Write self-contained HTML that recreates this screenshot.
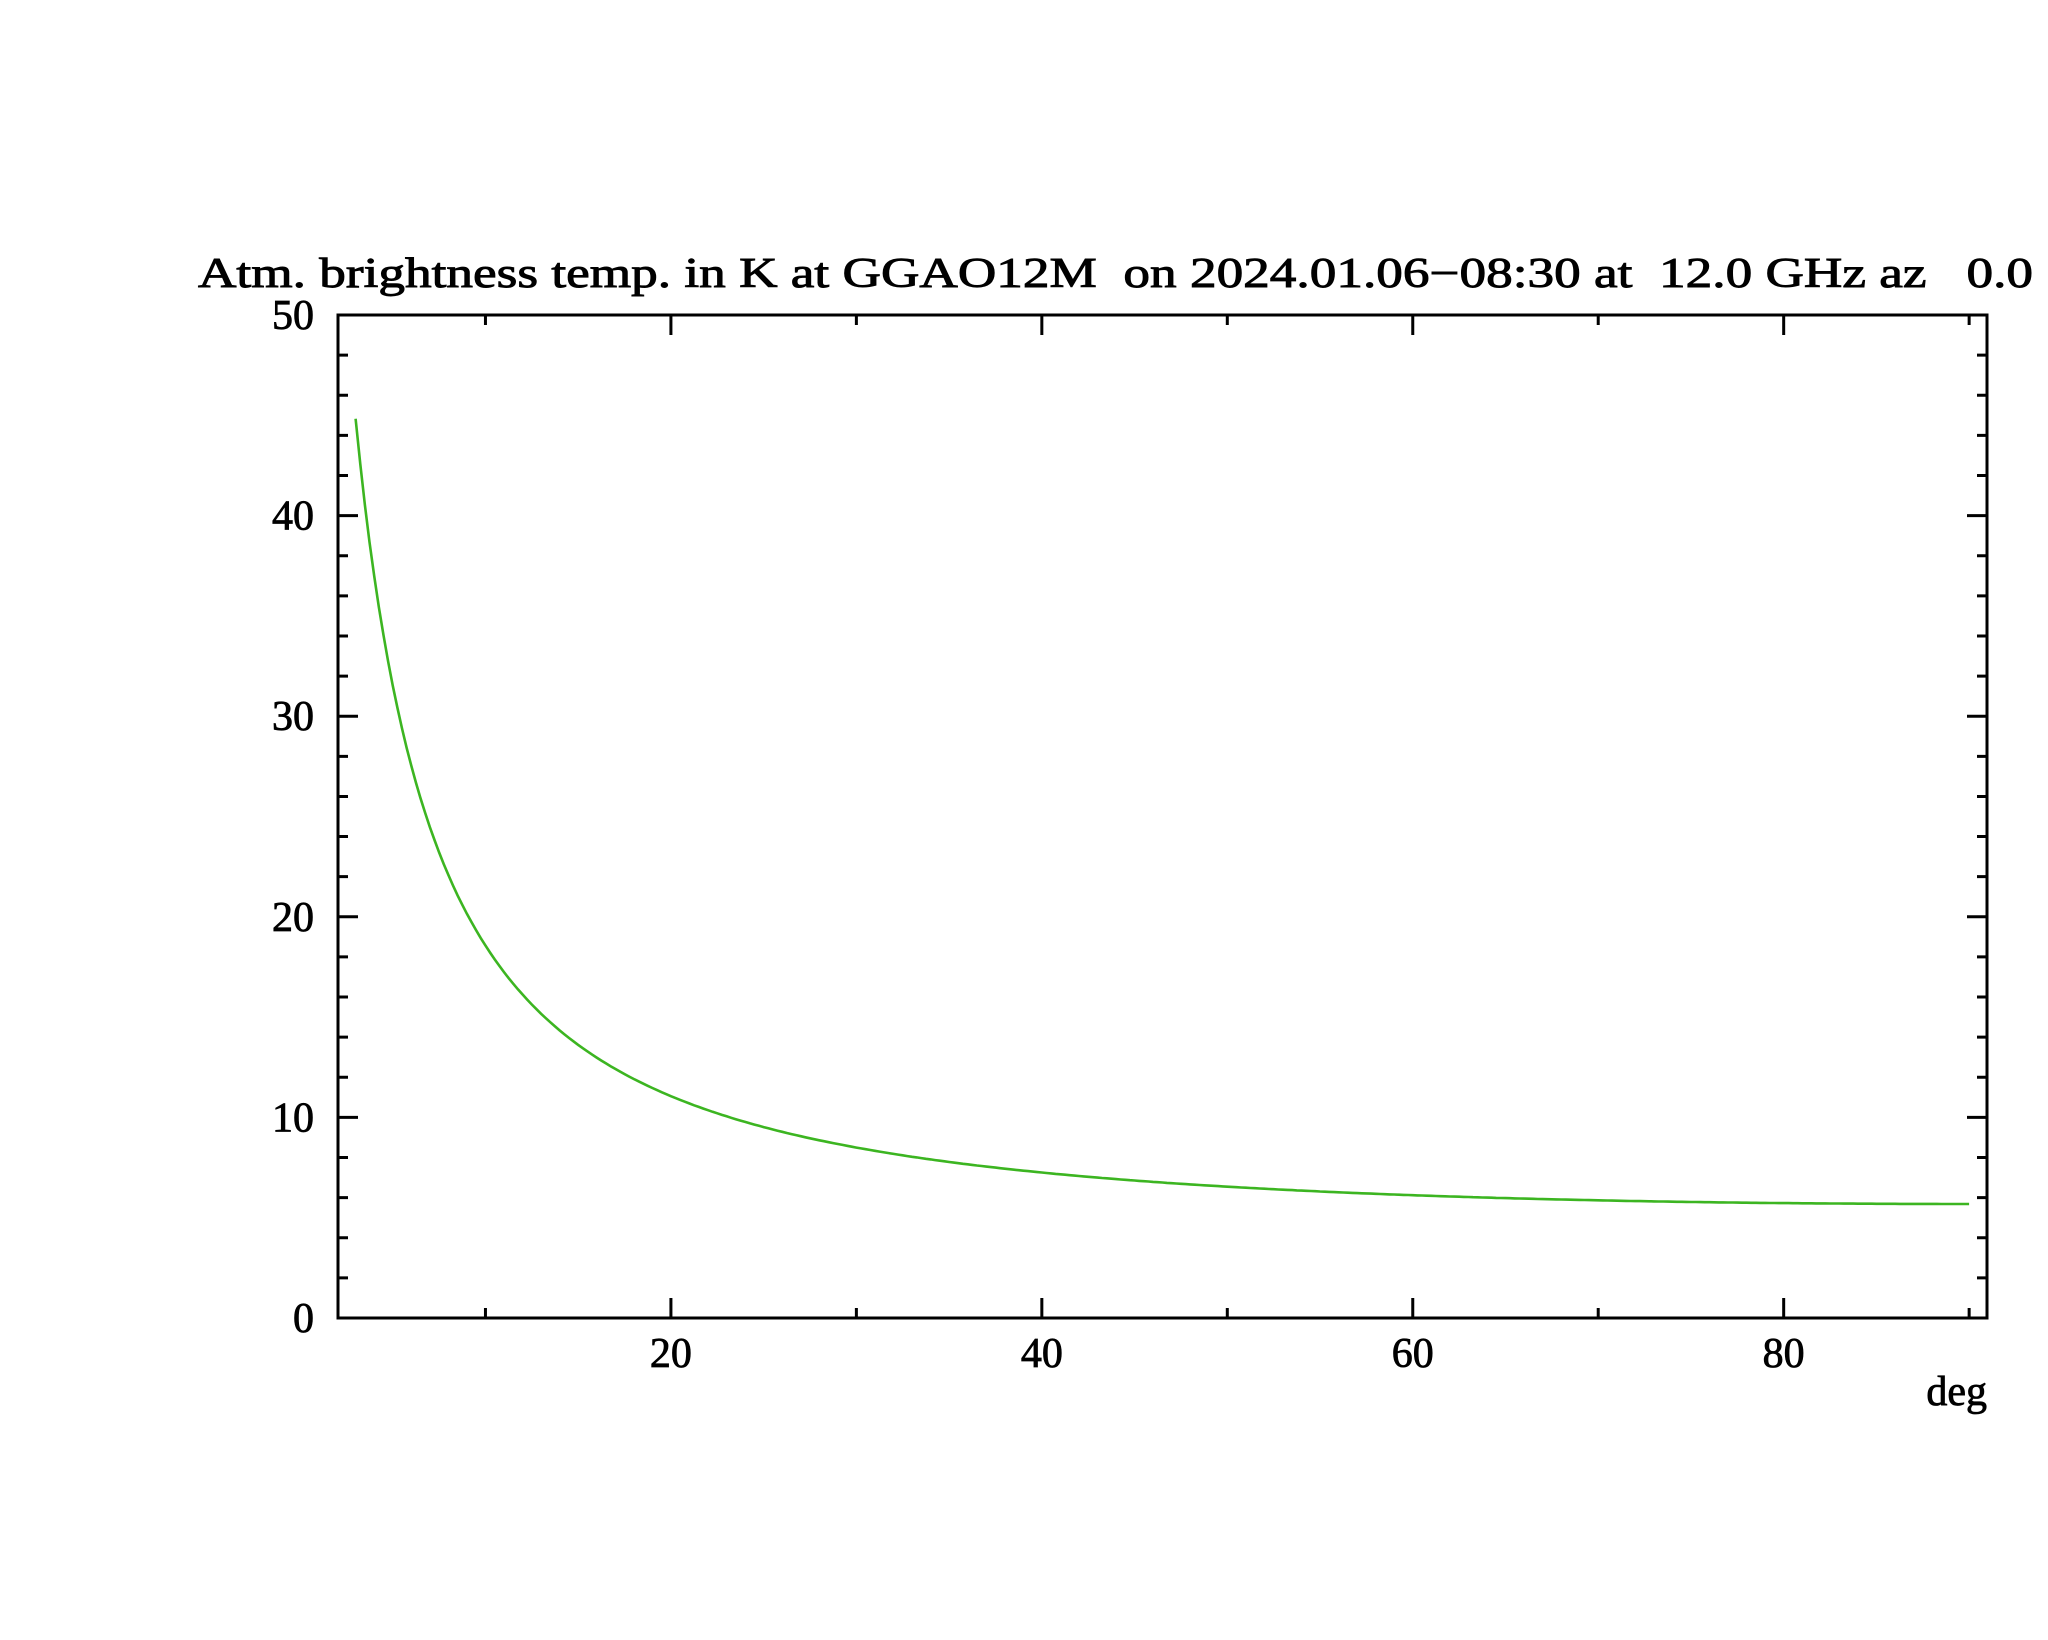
<!DOCTYPE html>
<html><head><meta charset="utf-8"><style>html,body{margin:0;padding:0;background:#fff}</style></head>
<body>
<svg id="s" width="2048" height="1635" viewBox="0 0 2048 1635" xmlns="http://www.w3.org/2000/svg" font-family="'Liberation Serif', serif" fill="#000">
<text x="198" y="287" font-size="42" stroke="#000" stroke-width="0.9" textLength="1835" lengthAdjust="spacingAndGlyphs" xml:space="preserve">Atm. brightness temp. in K at GGAO12M  on 2024.01.06&#8722;08:30 at  12.0 GHz az   0.0</text>
<g id="ax" stroke="#000" stroke-width="3" fill="none"></g>
<g id="lab" font-size="42" stroke="#000" stroke-width="0.8"></g>
<text x="1987" y="1405" font-size="42" stroke="#000" stroke-width="0.8" text-anchor="end">deg</text>
<path id="c" fill="none" stroke="#3cb521" stroke-width="2.6"/>
</svg>
<script>
var L=338,R=1987,T=315,B=1318;
function X(v){return 300+v*18.546;}
function Y(v){return B-(B-T)*v/50;}
var ns="http://www.w3.org/2000/svg",ax=document.getElementById('ax'),lab=document.getElementById('lab');
var d="M"+L+" "+T+"H"+R+"V"+B+"H"+L+"Z";
for(var v=0;v<=50;v+=2){var y=Y(v),len=(v%10==0)?20:10;
 d+="M"+L+" "+y+"h"+len+"M"+R+" "+y+"h"+(-len);
 if(v%10==0){var t=document.createElementNS(ns,'text');t.setAttribute('x',314);t.setAttribute('y',y+14);t.setAttribute('text-anchor','end');t.textContent=v;lab.appendChild(t);}}
for(var v=10;v<=90;v+=10){var x=X(v),len=(v%20==0)?20:10;
 d+="M"+x+" "+B+"v"+(-len)+"M"+x+" "+T+"v"+len;
 if(v%20==0){var t=document.createElementNS(ns,'text');t.setAttribute('x',x);t.setAttribute('y',1367);t.setAttribute('text-anchor','middle');t.textContent=v;lab.appendChild(t);}}
var p=document.createElementNS(ns,'path');p.setAttribute('d',d);ax.appendChild(p);
var pd="";
for(var e=3;e<=90.001;e+=0.25){var s=Math.sin(e*Math.PI/180);var A=1/(s+0.018*Math.exp(-11*s));
 var Tb=2.84+260*(1-Math.exp(-0.0110*A));
 pd+=(pd?"L":"M")+X(e).toFixed(1)+" "+Y(Tb).toFixed(1);}
document.getElementById('c').setAttribute('d',pd);
</script>
</body></html>
